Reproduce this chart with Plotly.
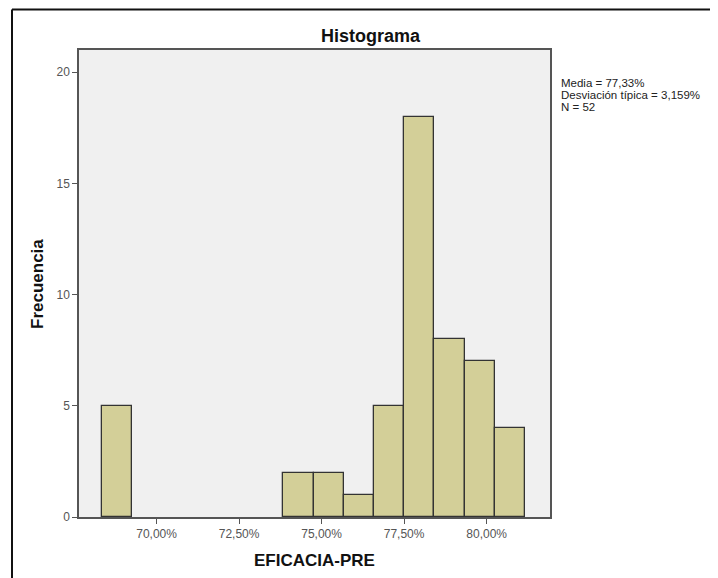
import numpy as np
import plotly.graph_objects as go

# histograma EFICACIA-PRE (N = 52), clases de ~0,915 puntos porcentuales
bin_start = 68.35
bin_width = 0.915
frecuencias = [5, 0, 0, 0, 0, 0, 2, 2, 1, 5, 18, 8, 7, 4]

tick_vals = [70.0, 72.5, 75.0, 77.5, 80.0]
tick_text = ["70,00%", "72,50%", "75,00%", "77,50%", "80,00%"]
y_ticks = [0, 5, 10, 15, 20]

resumen = ["Media = 77,33%", "Desviación típica = 3,159%", "N = 52"]

centros = bin_start + bin_width * (np.arange(len(frecuencias)) + 0.5)
alturas = [v if v > 0 else None for v in frecuencias]  # clases vacías sin contorno

FUENTE = "Arial, Liberation Sans, sans-serif"
OFF = 8  # margen por defecto del <body> en la página

fig = go.Figure()
fig.add_trace(go.Bar(
    x=centros, y=alturas, width=bin_width,
    marker=dict(color="#d3cf98", line=dict(color="#333333", width=1.3)),
    showlegend=False, hoverinfo="x+y",
))

# coordenadas de página: área del gráfico x=79..550, y=50..517
W, H = 718 - OFF, 578 - OFF
L, T = 79 - OFF, 50 - OFF
R, B = 718 - 550, 578 - 517
pw, ph = W - L - R, H - T - B


def px(x):
    return (x - 79) / pw


def py(y):
    return (517 - y) / ph


ejes = dict(
    showgrid=False, zeroline=False, showline=True, mirror=True,
    linecolor="#555555", linewidth=1.5, ticks="outside", ticklen=5,
    tickcolor="#555555", tickfont=dict(size=12, color="#555555"),
)

fig.update_layout(
    width=W, height=H,
    margin=dict(l=L, r=R, t=T, b=B),
    paper_bgcolor="white", plot_bgcolor="#f0f0f0",
    font=dict(family=FUENTE, color="#333333", size=12),
    bargap=0,
    xaxis=dict(range=[67.65, 81.92], tickvals=tick_vals, ticktext=tick_text, **ejes),
    yaxis=dict(range=[0, 21], tickvals=y_ticks, **ejes),
    shapes=[
        # marco exterior (solo borde superior e izquierdo visibles)
        dict(type="line", xref="paper", yref="paper",
             x0=px(12), x1=px(720), y0=py(9.5), y1=py(9.5),
             line=dict(color="#111111", width=2)),
        dict(type="line", xref="paper", yref="paper",
             x0=px(12), x1=px(12), y0=py(9.5), y1=py(580),
             line=dict(color="#111111", width=2)),
    ],
    annotations=[
        dict(text="<b>Histograma</b>", xref="paper", yref="paper",
             x=px(371), y=py(36), xanchor="center", yanchor="middle",
             showarrow=False, font=dict(size=18, color="#111111")),
        dict(text="<b>Frecuencia</b>", xref="paper", yref="paper",
             x=px(37), y=py(284), xanchor="center", yanchor="middle",
             textangle=-90, showarrow=False, font=dict(size=17, color="#111111")),
        dict(text="<b>EFICACIA-PRE</b>", xref="paper", yref="paper",
             x=px(314), y=py(560), xanchor="center", yanchor="middle",
             showarrow=False, font=dict(size=17, color="#111111")),
    ] + [
        dict(text=linea, xref="paper", yref="paper",
             x=px(559), y=py(83 + 12 * i), xanchor="left", yanchor="middle",
             showarrow=False, font=dict(size=11.5, color="#222222"))
        for i, linea in enumerate(resumen)
    ],
)

fig.write_html("out.html")
